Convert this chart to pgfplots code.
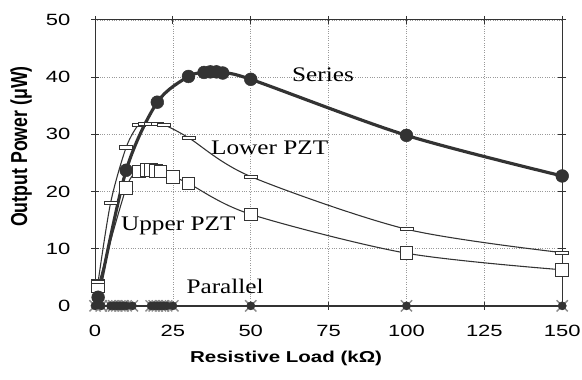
\documentclass[border=0pt]{standalone}
\usepackage{pgfplots}
\pgfplotsset{compat=1.18}
\usepackage{fontspec}
\setmainfont{Liberation Sans}
\newfontfamily\timesf{Liberation Serif}
\definecolor{dk}{HTML}{333333}
\definecolor{xg}{HTML}{8A8A8A}
\tikzset{lbl/.style={anchor=base west, inner sep=0pt, xscale=1.22, font=\timesf\fontsize{21}{23}\selectfont}}
\begin{document}
\begin{tikzpicture}[x=1bp,y=1bp]
\useasboundingbox (-96bp,-74bp) rectangle (492bp,309bp);
\begin{axis}[
  at={(0,0)}, anchor=south west,
  scale only axis,
  width=472bp, height=289bp,
  xmin=0, xmax=150, ymin=0, ymax=50,
  xtick={0,25,...,150}, ytick={0,10,...,50},
  grid=major,
  major grid style={dotted, gray!80, line width=0.6pt},
  axis line style={dk, line width=1pt},
  tick style={dk, line width=0.8pt},
  tick align=center,
  major tick length=8bp,
  /pgf/number format/assume math mode=true,
  ticklabel style={font=\fontsize{16.5}{18}\selectfont, text=black, xscale=1.35},
  xticklabel style={yshift=-12bp},
  yticklabel style={xshift=-12bp},
  clip=false,
]
% axis titles
\node[font=\bfseries\fontsize{16}{18}\selectfont, xscale=1.3, inner sep=0pt] at ([yshift=-53bp]rel axis cs:0.409,0) {Resistive Load (kΩ)};
\node[font=\bfseries\fontsize{18}{20}\selectfont, xscale=1.3, rotate=90, inner sep=0pt] at ([xshift=-74.5bp]rel axis cs:0,0.557) {Output Power (μW)};
% Parallel
\addplot[dk, line width=1.4pt, mark=x, mark size=8, mark options={xg, line width=1.4pt}]
  coordinates {(0,0)(2,0)(5,0)(6,0)(7,0)(8,0)(9,0)(10,0)(12,0)(18,0)(19,0)(20,0)(21,0)(22,0)(23,0)(25,0)(50,0)(100,0)(150,0)};
\addplot[draw=none, mark=*, mark size=4.2, mark options={fill=dk, draw=dk}]
  coordinates {(0,0)(2,0)(5,0)(6,0)(7,0)(8,0)(9,0)(10,0)(12,0)(18,0)(19,0)(20,0)(21,0)(22,0)(23,0)(25,0)(50,0)(100,0)(150,0)};
% Upper PZT
\addplot[dk, line width=1.1pt, smooth, mark=square*, mark size=6.5, mark options={fill=white, draw=dk, line width=0.8pt}]
  coordinates {(1,3.5)(10,20.6)(14,23.5)(16.5,23.7)(18,23.7)(19.5,23.6)(21,23.5)(25,22.6)(30,21.4)(50,16.0)(100,9.2)(150,6.3)};
% Lower PZT
\addplot[dk, line width=1.1pt, smooth, mark=square*, mark size=5, mark options={fill=white, draw=dk, line width=0.7pt, xscale=1.3, yscale=0.32}]
  coordinates {(1,4.2)(5,18.0)(10,27.7)(14,31.7)(16,31.8)(18,31.8)(20,31.8)(22,31.7)(30,29.4)(50,22.6)(100,13.4)(150,9.3)};
% Series
\addplot[dk, line width=3.2pt, smooth, mark=*, mark size=6.5, mark options={fill=dk, draw=dk, line width=0.5pt}]
  coordinates {(1,1.5)(10,23.7)(20,35.6)(30,40.1)(35,40.8)(37,40.9)(39,40.9)(41,40.7)(50,39.6)(100,29.8)(150,22.7)};
\node[lbl] at (axis cs:63.2,39.3) {Series};
\node[lbl] at (axis cs:37.2,26.5) {Lower PZT};
\node[lbl] at (axis cs:8.3,13.1) {Upper PZT};
\node[lbl] at (axis cs:29.3,2.1) {Parallel};
\end{axis}
\end{tikzpicture}
\end{document}
